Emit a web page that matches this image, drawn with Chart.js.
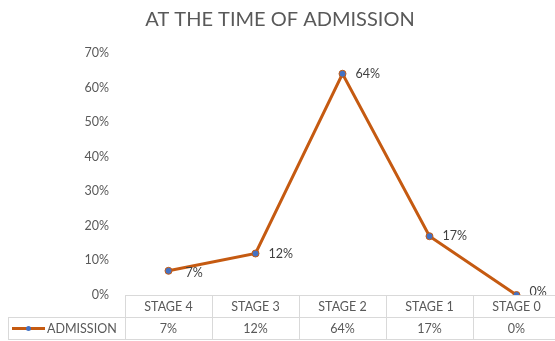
<!DOCTYPE html>
<html>
<head>
<meta charset="utf-8">
<script src="https://cdn.jsdelivr.net/npm/chart.js@4"></script>
<style>
html, body { margin: 0; padding: 0; background: #fff; overflow: hidden; }
#wrap { width: 568px; height: 341px; }
</style>
</head>
<body>
<div id="wrap"><canvas id="chart"></canvas></div>
<script>
var categories = ['STAGE 4', 'STAGE 3', 'STAGE 2', 'STAGE 1', 'STAGE 0'];
var admission = [0.07, 0.12, 0.64, 0.17, 0.00];
var yTicks = [0, 0.1, 0.2, 0.3, 0.4, 0.5, 0.6, 0.7];
var seriesName = 'ADMISSION';

var lineColor = '#c55a11';
var markerColor = '#4472c4';
var textColor = '#595959';
var gridColor = '#d9d9d9';
var fontFamily = 'Lato, "Open Sans", sans-serif';

function pct (v) {
	return Math.round(v * 100) + '%';
}

// labels right of each point
var pointLabels = {
	id: 'pointLabels',
	afterDatasetsDraw: function (chart) {
		var ctx = chart.ctx;
		var meta = chart.getDatasetMeta(0);
		ctx.save();
		ctx.font = '12.5px ' + fontFamily;
		ctx.fillStyle = '#404040';
		ctx.textAlign = 'left';
		ctx.textBaseline = 'middle';
		meta.data.forEach(function (pt, i) {
			var dy = (i == 0) ? 2 : (i == 4 ? -3 : 0);
			var dx = (i == 0) ? 17 : 13;
			ctx.fillText(pct(admission[i]), pt.x + dx, pt.y + dy);
		});
		ctx.restore();
	}
};

// excel style data table under the plot
var dataTable = {
	id: 'dataTable',
	afterDraw: function (chart) {
		var ctx = chart.ctx;
		var x = chart.scales.x;
		var area = chart.chartArea;
		var rowH = 22;
		var top = Math.round(area.bottom);
		var mid = top + rowH;
		var bot = mid + rowH;
		var left = 8;
		var step = x.getPixelForValue(1) - x.getPixelForValue(0);
		ctx.save();
		ctx.strokeStyle = gridColor;
		ctx.lineWidth = 1;
		ctx.beginPath();
		ctx.moveTo(area.left, top + 0.5); ctx.lineTo(area.right, top + 0.5);
		ctx.moveTo(left, mid + 0.5); ctx.lineTo(area.right, mid + 0.5);
		ctx.moveTo(left, bot + 0.5); ctx.lineTo(area.right, bot + 0.5);
		ctx.moveTo(left + 0.5, mid); ctx.lineTo(left + 0.5, bot);
		for (var i = 0; i <= categories.length; i++) {
			var bx = Math.round(x.getPixelForValue(0) - step / 2 + i * step) + 0.5;
			ctx.moveTo(bx, top); ctx.lineTo(bx, bot);
		}
		ctx.stroke();

		ctx.font = '12.5px ' + fontFamily;
		ctx.fillStyle = textColor;
		ctx.textAlign = 'center';
		ctx.textBaseline = 'middle';
		for (var j = 0; j < categories.length; j++) {
			var cx = x.getPixelForValue(j);
			ctx.fillText(categories[j], cx, top + rowH / 2 + 1);
			ctx.fillText(pct(admission[j]), cx, mid + rowH / 2 + 1);
		}

		// legend key
		var ky = mid + rowH / 2 + 0.5;
		ctx.strokeStyle = lineColor;
		ctx.lineWidth = 3;
		ctx.beginPath();
		ctx.moveTo(12, ky); ctx.lineTo(45, ky);
		ctx.stroke();
		ctx.beginPath();
		ctx.arc(28.5, ky, 2.5, 0, Math.PI * 2);
		ctx.fillStyle = markerColor;
		ctx.fill();
		ctx.fillStyle = textColor;
		ctx.textAlign = 'left';
		ctx.fillText(seriesName, 47, ky + 0.5);
		ctx.restore();
	}
};

new Chart(document.getElementById('chart').getContext('2d'), {
	type: 'line',
	data: {
		labels: categories,
		datasets: [{
			label: seriesName,
			data: admission,
			borderColor: lineColor,
			borderWidth: 3,
			pointRadius: 3.5,
			pointBackgroundColor: markerColor,
			pointBorderColor: lineColor,
			pointBorderWidth: 1,
			tension: 0,
			fill: false
		}]
	},
	options: {
		responsive: true,
		maintainAspectRatio: false,
		animation: false,
		layout: {
			padding: { left: 0, right: 8, top: 0, bottom: 46 }
		},
		plugins: {
			legend: { display: false },
			tooltip: { enabled: false },
			title: {
				display: true,
				text: 'AT THE TIME OF ADMISSION',
				color: textColor,
				font: { family: fontFamily, size: 20, weight: 'normal' },
				padding: { top: 8, bottom: 21 }
			}
		},
		scales: {
			x: {
				type: 'category',
				offset: true,
				grid: { display: false },
				border: { display: false },
				ticks: { display: false },
				afterFit: function (scale) { scale.height = 0; }
			},
			y: {
				min: 0,
				max: 0.7,
				afterBuildTicks: function (scale) {
					scale.ticks = yTicks.map(function (v) { return { value: v }; });
				},
				afterFit: function (scale) { scale.width = 125; },
				grid: { display: false },
				border: { display: false },
				ticks: {
					padding: 8,
					color: textColor,
					font: { family: fontFamily, size: 12.5 },
					callback: function (v) { return pct(v); }
				}
			}
		}
	},
	plugins: [pointLabels, dataTable]
});
</script>
</body>
</html>
